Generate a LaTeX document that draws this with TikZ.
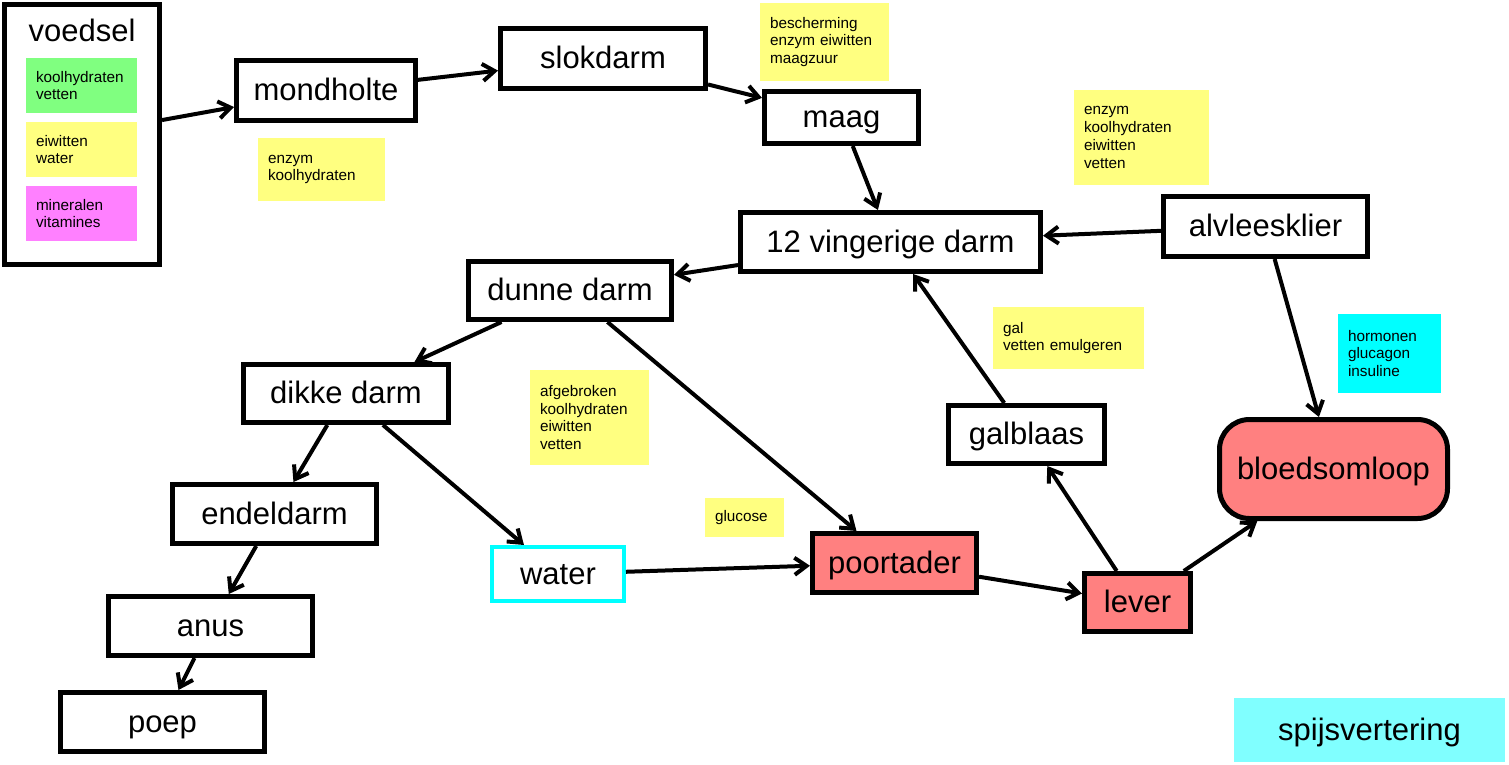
\documentclass[tikz,border=0pt]{standalone}
\usepackage{fontspec}
\setmainfont{Liberation Sans}
\usetikzlibrary{arrows.meta}
\definecolor{noteyellow}{HTML}{FFFF80}
\definecolor{notegreen}{HTML}{80FF80}
\definecolor{notepink}{HTML}{FF80FF}
\definecolor{notecyan}{HTML}{00FFFF}
\definecolor{titlecyan}{HTML}{80FFFF}
\definecolor{organred}{HTML}{FF8080}
\newcommand{\bigtxt}{\fontsize{31pt}{35pt}\selectfont}
\newcommand{\smalltxt}{\fontsize{15.3pt}{17.8pt}\selectfont}
\tikzset{
  bigtext/.style={font=\bigtxt, text height=24pt, text depth=4pt},
  box/.style={draw=black, line width=5pt, fill=white, bigtext, inner sep=0pt},
  organ/.style={box, fill=organred},
  note/.style={font=\smalltxt, align=left, inner ysep=0pt, inner xsep=10pt, outer sep=0pt, anchor=west},
  arr/.style={line width=4pt, -{Straight Barb[length=12pt,width=17pt,line width=4pt]}},
}
\begin{document}
\begin{tikzpicture}[x=1pt,y=-1pt]
\useasboundingbox (0,0) rectangle (1509,765);
% voedsel
\node[box, minimum width=155pt, minimum height=260pt] (voed) at (82,134.5) {};
\node[bigtext, inner sep=0pt] (voedtitle) at (82,32) {voedsel};
\node[note, fill=notegreen, text width=91pt, minimum height=55pt] (vo1) at (26,85.5) {koolhydraten\\vetten};
\node[note, fill=noteyellow, text width=91pt, minimum height=55pt] (vo2) at (26,149.5) {eiwitten\\water};
\node[note, fill=notepink, text width=91pt, minimum height=55pt] (vo3) at (26,213.5) {mineralen\\vitamines};
% notes
\node[note, fill=noteyellow, text width=109pt, minimum height=78pt] (n1) at (760,42) {bescherming\\enzym eiwitten\\maagzuur};
\node[note, fill=noteyellow, text width=107pt, minimum height=63pt] (n2) at (258,169.5) {enzym\\koolhydraten};
\node[note, fill=noteyellow, text width=115pt, minimum height=95pt] (n3) at (1074,137.5) {enzym\\koolhydraten\\eiwitten\\vetten};
\node[note, fill=noteyellow, text width=131pt, minimum height=62pt] (n4) at (993,338) {gal\\vetten emulgeren};
\node[note, fill=notecyan, text width=83pt, minimum height=79pt] (n5) at (1338,353.5) {hormonen\\glucagon\\insuline};
\node[note, fill=noteyellow, text width=99pt, minimum height=95pt] (n6) at (530,417.5) {afgebroken\\koolhydraten\\eiwitten\\vetten};
\node[note, fill=noteyellow, text width=59pt, minimum height=39pt] (n7) at (705,517.5) {glucose};
% organs
\node[box, minimum width=179pt, minimum height=60pt] (mond) at (326,90.5) {mondholte};
\node[box, minimum width=205pt, minimum height=60pt] (slok) at (603,58.5) {slokdarm};
\node[box, minimum width=154pt, minimum height=52pt] (maag) at (841.5,117.5) {maag};
\node[box, minimum width=300pt, minimum height=59pt] (vd) at (890.5,242) {12 vingerige darm};
\node[box, minimum width=204pt, minimum height=60pt] (alv) at (1265.5,226.5) {alvleesklier};
\node[box, minimum width=203pt, minimum height=58pt] (dunne) at (570,290.5) {dunne darm};
\node[box, minimum width=205pt, minimum height=58pt] (dikke) at (346,393.5) {dikke darm};
\node[box, minimum width=204pt, minimum height=59pt] (endel) at (274.5,514) {endeldarm};
\node[box, minimum width=204pt, minimum height=59pt] (anus) at (210.5,626) {anus};
\node[box, minimum width=204pt, minimum height=59pt] (poep) at (162.5,722) {poep};
\node[box, draw=notecyan, line width=4pt, minimum width=132pt, minimum height=54pt] (water) at (558,574) {water};
\node[organ, minimum width=164pt, minimum height=59pt] (poort) at (894.5,563) {poortader};
\node[organ, minimum width=106pt, minimum height=58pt] (lever) at (1137.5,602.5) {lever};
\node[box, minimum width=156pt, minimum height=58pt] (gal) at (1026.5,434.5) {galblaas};
\node[organ, rounded corners=30pt, minimum width=228pt, minimum height=99pt] (bloed) at (1333.5,469) {bloedsomloop};
\node[fill=titlecyan, bigtext, inner sep=0pt, minimum width=271pt, minimum height=64pt] (title) at (1369.5,730) {spijsvertering};
% connectors
\draw[arr] (voed) -- (mond);
\draw[arr] (mond) -- (slok);
\draw[arr] (slok) -- (maag);
\draw[arr] (maag) -- (vd);
\draw[arr] (alv) -- (vd);
\draw[arr] (vd) -- (dunne);
\draw[arr] (dunne) -- (dikke);
\draw[arr] (dunne) -- (poort);
\draw[arr] (dikke) -- (endel);
\draw[arr] (dikke) -- (water);
\draw[arr] (endel) -- (anus);
\draw[arr] (anus) -- (poep);
\draw[arr] (water) -- (poort);
\draw[arr] (poort) -- (lever);
\draw[arr] (lever) -- (gal);
\draw[arr] (gal) -- (vd);
\draw[arr] (lever) -- (bloed);
\draw[arr] (alv) -- (bloed);
\end{tikzpicture}
\end{document}
